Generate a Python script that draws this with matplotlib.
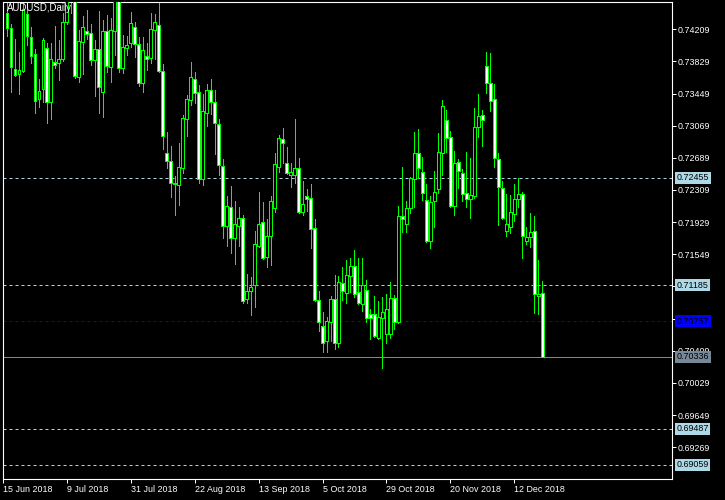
import matplotlib
matplotlib.use('Agg')
import matplotlib.pyplot as plt
import numpy as np
import pandas as pd

plt.rcParams['font.family'] = ['Liberation Sans', 'DejaVu Sans']

# daily AUDUSD bars, 15 Jun 2018 .. 21 Dec 2018
start_date = '2018-06-15'
opens = [
    0.74650, 0.74401, 0.74224, 0.73739, 0.73680, 0.73716, 0.74390, 0.74118, 0.73917, 0.73385,
    0.73503, 0.73988, 0.73349, 0.73822, 0.73810, 0.73858, 0.74295, 0.74590, 0.74614, 0.73645,
    0.74059, 0.74189, 0.74165, 0.73846, 0.73976, 0.73468, 0.74189, 0.73763, 0.74189, 0.74579,
    0.73751, 0.73988, 0.74047, 0.74236, 0.74035, 0.73574, 0.73893, 0.73869, 0.74200, 0.74259,
    0.73716, 0.72747, 0.72652, 0.72392, 0.72368, 0.72569, 0.73148, 0.73373, 0.73621, 0.73468,
    0.72439, 0.73219, 0.73491, 0.73349, 0.73089, 0.72593, 0.71884, 0.72108, 0.71742, 0.71884,
    0.71978, 0.71021, 0.71115, 0.71186, 0.71647, 0.71931, 0.71517, 0.71766, 0.72096, 0.72581,
    0.72912, 0.72628, 0.72487, 0.72487, 0.72569, 0.72049, 0.72238, 0.72215, 0.71860, 0.71009,
    0.70702, 0.70524, 0.70749, 0.71021, 0.70501, 0.71210, 0.71092, 0.71293, 0.71411, 0.71104,
    0.70962, 0.71127, 0.70844, 0.70844, 0.70560, 0.70796, 0.70607, 0.70607, 0.71033, 0.70749,
    0.72002, 0.71907, 0.72096, 0.72439, 0.72747, 0.72522, 0.72191, 0.71706, 0.72179, 0.72321,
    0.72747, 0.73137, 0.72936, 0.72120, 0.72640, 0.72510, 0.72274, 0.72203, 0.72238, 0.73054,
    0.73196, 0.73775, 0.73574, 0.73385, 0.72676, 0.72333, 0.71825, 0.71872, 0.72026, 0.72203,
    0.72262, 0.71706, 0.71754, 0.71825, 0.71056, 0.71092,
]
highs = [
    0.74673, 0.74540, 0.74271, 0.74094, 0.73940, 0.74540, 0.74540, 0.74236, 0.73976, 0.73621,
    0.74106, 0.74047, 0.74047, 0.74248, 0.74082, 0.74401, 0.74579, 0.74680, 0.74650, 0.74200,
    0.74366, 0.74437, 0.74271, 0.74082, 0.74425, 0.74319, 0.74378, 0.74342, 0.74600, 0.74602,
    0.74141, 0.74130, 0.74413, 0.74295, 0.74118, 0.74118, 0.74047, 0.74401, 0.74390, 0.74540,
    0.73799, 0.72995, 0.72829, 0.72475, 0.72865, 0.73196, 0.73432, 0.73822, 0.73704, 0.73550,
    0.73444, 0.73562, 0.73621, 0.73491, 0.73148, 0.72676, 0.72238, 0.72357, 0.72179, 0.72108,
    0.72014, 0.71316, 0.71281, 0.71825, 0.72286, 0.72167, 0.71966, 0.72238, 0.72747, 0.72959,
    0.73042, 0.72818, 0.72628, 0.73148, 0.72687, 0.72416, 0.72321, 0.72380, 0.71966, 0.71115,
    0.70867, 0.70808, 0.71056, 0.71305, 0.71293, 0.71399, 0.71482, 0.71505, 0.71600, 0.71505,
    0.71505, 0.71245, 0.70903, 0.71056, 0.70997, 0.71045, 0.71080, 0.71222, 0.71068, 0.72120,
    0.72581, 0.72179, 0.72463, 0.72995, 0.73030, 0.72699, 0.72380, 0.72238, 0.72534, 0.72983,
    0.73373, 0.73255, 0.73007, 0.72770, 0.72676, 0.72557, 0.72758, 0.72687, 0.73278, 0.73444,
    0.73255, 0.73940, 0.73929, 0.73562, 0.72747, 0.72416, 0.72262, 0.72250, 0.72380, 0.72451,
    0.72286, 0.71872, 0.72037, 0.72002, 0.71482, 0.71234,
]
lows = [
    0.74401, 0.74130, 0.73468, 0.73657, 0.73444, 0.73704, 0.74023, 0.73810, 0.73219, 0.73290,
    0.73349, 0.73101, 0.73148, 0.73751, 0.73609, 0.73834, 0.74271, 0.74401, 0.73633, 0.73586,
    0.73680, 0.74094, 0.73787, 0.73420, 0.73219, 0.73172, 0.73704, 0.73586, 0.73905, 0.73704,
    0.73692, 0.73905, 0.73999, 0.73881, 0.73538, 0.73468, 0.73728, 0.73810, 0.73858, 0.73704,
    0.72794, 0.72569, 0.72227, 0.72014, 0.72132, 0.72510, 0.72948, 0.73314, 0.73338, 0.72392,
    0.72368, 0.73066, 0.73208, 0.72735, 0.72487, 0.71742, 0.71647, 0.71565, 0.71435, 0.71647,
    0.70974, 0.70974, 0.70832, 0.70926, 0.71636, 0.71494, 0.71399, 0.71423, 0.72049, 0.72522,
    0.72628, 0.72498, 0.72345, 0.72392, 0.72037, 0.72014, 0.72061, 0.71624, 0.70997, 0.70643,
    0.70394, 0.70394, 0.70524, 0.70430, 0.70454, 0.71009, 0.70974, 0.71104, 0.71045, 0.70962,
    0.70879, 0.70749, 0.70548, 0.70572, 0.70548, 0.70205, 0.70501, 0.70560, 0.70666, 0.70737,
    0.71813, 0.71813, 0.72037, 0.72108, 0.72451, 0.72191, 0.71695, 0.71624, 0.71872, 0.72274,
    0.72487, 0.72758, 0.72108, 0.72014, 0.72333, 0.72179, 0.72108, 0.71978, 0.72215, 0.72936,
    0.72829, 0.73456, 0.73243, 0.72581, 0.71896, 0.71966, 0.71766, 0.71801, 0.71943, 0.72108,
    0.71505, 0.71671, 0.71636, 0.70855, 0.70844, 0.70335,
]
closes = [
    0.74555, 0.74224, 0.73763, 0.73669, 0.73728, 0.74449, 0.74130, 0.73893, 0.73361, 0.73479,
    0.74082, 0.73349, 0.73858, 0.73787, 0.73858, 0.74295, 0.74540, 0.74640, 0.73657, 0.74070,
    0.74236, 0.74153, 0.73846, 0.73976, 0.73527, 0.74189, 0.73775, 0.74200, 0.74560, 0.73751,
    0.73999, 0.74023, 0.74283, 0.74035, 0.73574, 0.73964, 0.73858, 0.74212, 0.74295, 0.73716,
    0.72948, 0.72652, 0.72392, 0.72380, 0.72581, 0.73160, 0.73385, 0.73645, 0.73456, 0.72439,
    0.73243, 0.73491, 0.73349, 0.73101, 0.72605, 0.71884, 0.72120, 0.71742, 0.71907, 0.71978,
    0.70997, 0.71115, 0.71163, 0.71671, 0.71907, 0.71505, 0.71766, 0.72179, 0.72617, 0.72924,
    0.72865, 0.72510, 0.72522, 0.72569, 0.72049, 0.72144, 0.72203, 0.71848, 0.71009, 0.70749,
    0.70501, 0.70761, 0.71021, 0.70501, 0.71222, 0.71115, 0.71305, 0.71411, 0.71080, 0.70974,
    0.71186, 0.70796, 0.70796, 0.70584, 0.70808, 0.70867, 0.70903, 0.71033, 0.70749, 0.72002,
    0.71966, 0.72096, 0.72451, 0.72747, 0.72569, 0.72274, 0.71706, 0.72167, 0.72286, 0.72758,
    0.73302, 0.72924, 0.72120, 0.72628, 0.72534, 0.72262, 0.72203, 0.72250, 0.73054, 0.73184,
    0.73137, 0.73574, 0.73361, 0.72687, 0.72345, 0.71978, 0.71907, 0.72049, 0.72203, 0.72262,
    0.71766, 0.71754, 0.71813, 0.71080, 0.71080, 0.70336,
]

date_ticks = ['15 Jun 2018', '9 Jul 2018', '31 Jul 2018', '22 Aug 2018', '13 Sep 2018',
              '5 Oct 2018', '29 Oct 2018', '20 Nov 2018', '12 Dec 2018']
price_ticks = [0.74209, 0.73829, 0.73449, 0.73069, 0.72689, 0.72309, 0.71929,
               0.71549, 0.71169, 0.70789, 0.70409, 0.70029, 0.69649, 0.69269]

level_lines = [0.72455, 0.71185, 0.69487, 0.69059]
bid_level = 0.70757
last_price = 0.70336

o = np.array(opens)
h = np.array(highs)
l = np.array(lows)
c = np.array(closes)
x = np.arange(len(o))
dates = pd.bdate_range(start_date, periods=len(o))

GREEN = '#00ff00'
LBLUE = '#add8e6'
PX = 0.72  # one pixel in points at 100 dpi

fig = plt.figure(figsize=(7.25, 5), dpi=100, facecolor='black')
ax = fig.add_axes([3 / 725, 21 / 500, 669 / 725, 477 / 500])
ax.set_facecolor('black')

# horizontal levels
for p in level_lines:
    ax.axhline(p, color=LBLUE, lw=PX, dashes=(3, 3), zorder=1)
ax.axhline(bid_level, color='#0000ff', lw=PX, dashes=(3, 3), zorder=1)
ax.axhline(last_price, color='#778899', lw=PX, zorder=1)

# candles: wicks, then bodies (white = bear, black = bull)
ax.vlines(x, l, h, color=GREEN, lw=PX, antialiased=False, zorder=2)
bull = c >= o
body_bottom = np.minimum(o, c)
body_height = np.abs(c - o)
face = np.where(bull, 'black', 'white')
ax.bar(x, body_height, bottom=body_bottom, width=0.72, color=face,
       edgecolor=GREEN, linewidth=PX, antialiased=False, zorder=3)

ax.set_xlim(0.25, 167.5)
ax.set_ylim(0.68893, 0.74531)

for s in ax.spines.values():
    s.set_color('white')
    s.set_linewidth(0.8)

# x axis: dates
tick_pos = [dates.get_loc(pd.to_datetime(t, format='%d %b %Y')) for t in date_ticks]
ax.set_xticks(tick_pos)
ax.set_xticklabels(date_ticks, ha='left')
ax.tick_params(axis='x', colors='white', length=2.9, width=PX, pad=1.5, labelsize=6.4)

# y axis: prices on the right; labels under the price boxes are hidden
boxes = [(p, LBLUE) for p in level_lines] + [(bid_level, '#0000ff'), (last_price, '#778899')]
hidden = {0.71169, 0.70789}
ax.yaxis.tick_right()
ax.set_yticks(price_ticks)
ax.set_yticklabels(['' if p in hidden else f'{p:.5f}' for p in price_ticks])
ax.tick_params(axis='y', colors='white', length=2.6, width=PX, pad=1.2, labelsize=6.4)

ytr = ax.get_yaxis_transform()
for p, fc in boxes:
    ax.text(1 + 4.5 / 669, p, f'{p:.5f}', transform=ytr, ha='left', va='center',
            fontsize=6.4, color='black', clip_on=False, zorder=5,
            bbox=dict(boxstyle='square,pad=0.18', fc=fc, ec='none'))

fig.text(7 / 725, 1 - 3 / 500, 'AUDUSD,Daily', color='white', fontsize=6.9,
         ha='left', va='top')

fig.savefig('out.png', dpi=100, facecolor='black')
